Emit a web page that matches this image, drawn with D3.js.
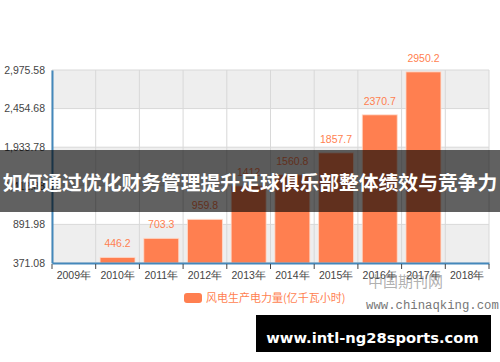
<!DOCTYPE html>
<html>
<head>
<meta charset="utf-8">
<script src="https://cdn.jsdelivr.net/npm/d3@7"></script>
<style>
  body { margin: 0; background: #fff; }
  svg { display: block; font-family: "Liberation Sans", Arial, sans-serif; }
</style>
</head>
<body>
<div id="chart"></div>
<script>
// chart data
var years = ["2009年", "2010年", "2011年", "2012年", "2013年", "2014年", "2015年", "2016年", "2017年", "2018年"];
var power = [null, 446.2, 703.3, 959.8, 1412, 1560.8, 1857.7, 2370.7, 2950.2, null];
var yTicks = [371.08, 891.98, 1412.88, 1933.78, 2454.68, 2975.58];
var seriesName = "风电生产电力量(亿千瓦小时)";
var bannerTitle = "如何通过优化财务管理提升足球俱乐部整体绩效与竞争力";
var siteText = "www.intl-ng28sports.com";

var width = 500, height = 362;
var plotLeft = 52, plotRight = 489, plotTop = 70, plotBottom = 263;
var coral = "#ff7f50", axisBlue = "#4488bb";

var svg = d3.select("#chart").append("svg")
    .attr("width", width)
    .attr("height", height);

var x = d3.scaleBand().domain(years).range([plotLeft, plotRight]);
var xBar = d3.scaleBand().domain(years).range([plotLeft, plotRight])
    .paddingInner(0.2).paddingOuter(0.1);
var y = d3.scaleLinear().domain([yTicks[0], yTicks[yTicks.length - 1]]).range([plotBottom, plotTop]);

// split areas, alternating from the top
var bands = d3.pairs(yTicks);
svg.selectAll(".band")
    .data(bands)
    .enter().append("rect")
    .attr("x", plotLeft)
    .attr("width", plotRight - plotLeft)
    .attr("y", function(d) { return y(d[1]); })
    .attr("height", function(d) { return y(d[0]) - y(d[1]); })
    .style("fill", function(d, i) { return (bands.length - 1 - i) % 2 == 0 ? "#eeeeee" : "#ffffff"; });

// grid lines
svg.selectAll(".hgrid")
    .data(yTicks)
    .enter().append("line")
    .attr("x1", plotLeft).attr("x2", plotRight)
    .attr("y1", function(d) { return y(d); })
    .attr("y2", function(d) { return y(d); })
    .style("stroke", "#d8d8d8");

var vlines = years.map(function(d) { return x(d); }).concat([plotRight]);
svg.selectAll(".vgrid")
    .data(vlines)
    .enter().append("line")
    .attr("x1", function(d) { return d; }).attr("x2", function(d) { return d; })
    .attr("y1", plotTop).attr("y2", plotBottom)
    .style("stroke", "#d8d8d8");

// bars
var bars = years.map(function(d, i) { return {year: d, value: power[i]}; })
    .filter(function(d) { return d.value != null; });

svg.selectAll(".bar")
    .data(bars)
    .enter().append("rect")
    .attr("x", function(d) { return xBar(d.year); })
    .attr("width", xBar.bandwidth())
    .attr("y", function(d) { return y(d.value); })
    .attr("height", function(d) { return y(yTicks[0]) - y(d.value); })
    .style("fill", coral)
    .style("stroke", "rgba(255,220,205,0.8)")
    .style("stroke-width", 1);

svg.selectAll(".vlabel")
    .data(bars)
    .enter().append("text")
    .attr("x", function(d) { return xBar(d.year) + xBar.bandwidth() / 2; })
    .attr("y", function(d) { return y(d.value) - 10; })
    .attr("text-anchor", "middle")
    .style("font-size", "10.5px")
    .style("fill", coral)
    .text(function(d) { return String(d.value); });

// y axis
var yAxis = d3.axisLeft(y).tickValues(yTicks).tickFormat(d3.format(",.2f")).tickSize(0).tickPadding(7);
var gy = svg.append("g").attr("transform", "translate(" + plotLeft + ",0)").call(yAxis);
gy.select(".domain").style("stroke", axisBlue).style("stroke-width", 2);
gy.selectAll("text").style("font-size", "10.5px").style("fill", "#444").style("font-family", "Liberation Sans, Arial, sans-serif");

// x axis
var xAxis = d3.axisBottom(x).tickSize(0).tickPadding(9);
var gx = svg.append("g").attr("transform", "translate(0," + plotBottom + ")").call(xAxis);
gx.select(".domain").style("stroke", axisBlue).style("stroke-width", 2);
gx.selectAll("text").style("font-size", "10.5px").style("fill", "#444").style("font-family", "Liberation Sans, Arial, sans-serif");
gx.selectAll(".xtick")
    .data(vlines)
    .enter().append("line")
    .attr("x1", function(d) { return d; }).attr("x2", function(d) { return d; })
    .attr("y1", 1).attr("y2", 6)
    .style("stroke", "#444");

// legend
var legend = svg.append("g").attr("transform", "translate(184,293)");
legend.append("rect")
    .attr("width", 18).attr("height", 10)
    .attr("rx", 3)
    .style("fill", coral);
legend.append("text")
    .attr("x", 22).attr("y", 9)
    .style("font-size", "11px")
    .style("fill", coral)
    .style("font-family", "Noto Sans CJK SC, sans-serif")
    .text(seriesName);

// watermarks
svg.append("text")
    .attr("x", 368).attr("y", 287)
    .style("font-size", "15px")
    .style("fill", "rgba(110,110,110,0.55)")
    .style("font-family", "Noto Sans CJK SC, serif")
    .text("中国期刊网");
svg.append("text")
    .attr("x", 366).attr("y", 309)
    .style("font-size", "12.3px")
    .style("fill", "#777")
    .style("font-family", "Liberation Mono, monospace")
    .text("www.chinaqking.com");

// overlay banner
svg.append("rect")
    .attr("x", 0).attr("y", 150)
    .attr("width", width).attr("height", 62)
    .style("fill", "rgba(0,0,0,0.62)");
svg.append("text")
    .attr("x", width / 2).attr("y", 181)
    .attr("text-anchor", "middle")
    .attr("dominant-baseline", "central")
    .style("font-size", "19.8px")
    .style("font-weight", "bold")
    .style("fill", "#fff")
    .style("font-family", "Noto Sans CJK SC, sans-serif")
    .text(bannerTitle);

svg.append("rect")
    .attr("x", 256).attr("y", 315)
    .attr("width", 235).attr("height", 37)
    .style("fill", "#000");
svg.append("text")
    .attr("x", 372.5).attr("y", 343)
    .attr("text-anchor", "middle")
    .style("font-size", "14.7px")
    .style("font-weight", "bold")
    .style("fill", "#fff")
    .style("font-family", "DejaVu Sans, sans-serif")
    .text(siteText);
</script>
</body>
</html>
